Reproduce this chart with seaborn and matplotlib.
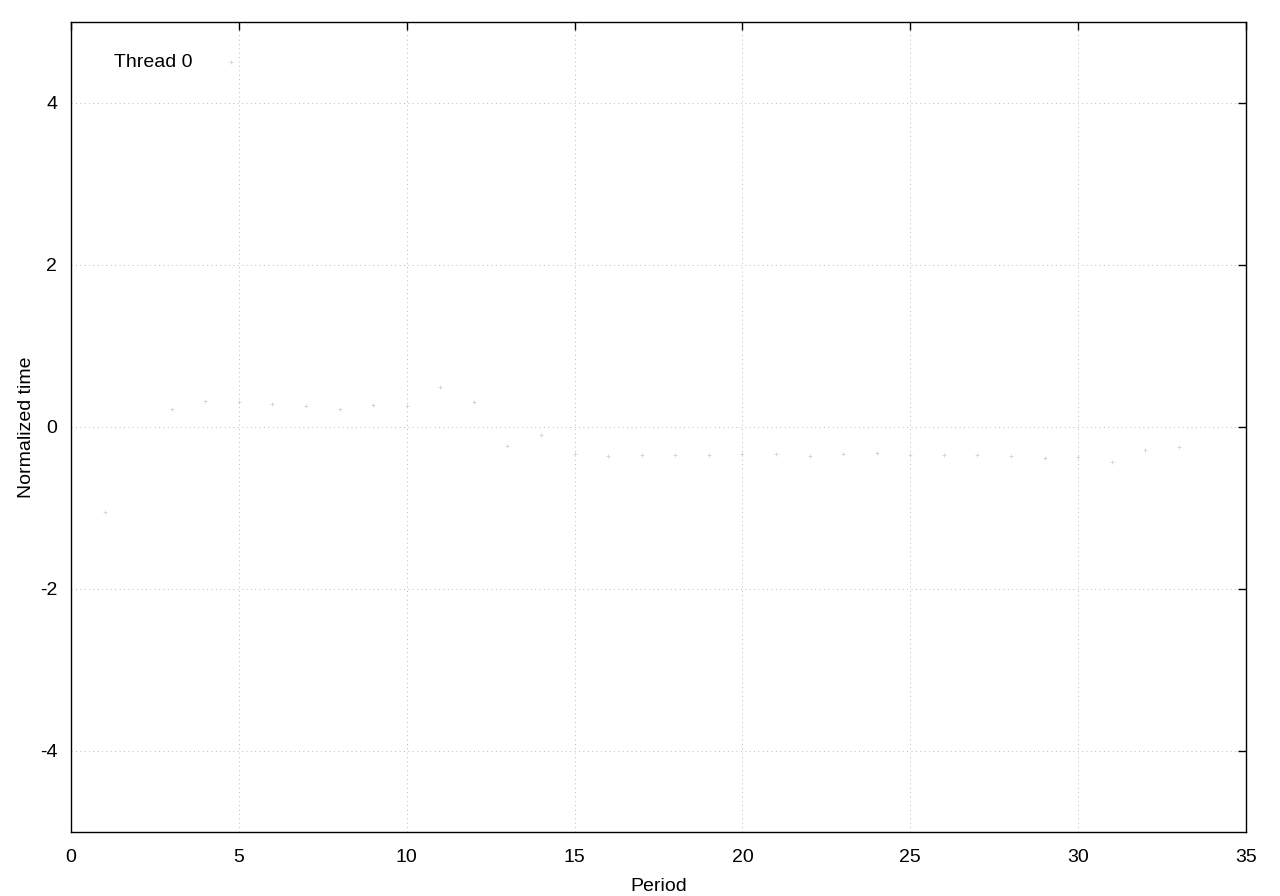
"""
Normalized time per period for thread 0, drawn in a gnuplot-like style.
"""

import matplotlib

matplotlib.use("Agg")

import matplotlib.pyplot as plt
import pandas as pd
import seaborn as sns

# values
period = [1, 3, 4, 5, 6, 7, 8, 9, 10, 11, 12, 13, 14, 15, 16, 17, 18,
          19, 20, 21, 22, 23, 24, 25, 26, 27, 28, 29, 30, 31, 32, 33]
norm_time = [-1.05, 0.22, 0.32, 0.31, 0.28, 0.26, 0.22, 0.27, 0.26, 0.49,
             0.30, -0.24, -0.10, -0.33, -0.36, -0.35, -0.35, -0.35, -0.33,
             -0.33, -0.36, -0.34, -0.32, -0.35, -0.35, -0.35, -0.36, -0.39,
             -0.37, -0.44, -0.29, -0.25]
series_label = "Thread 0"

x_ticks = [0, 5, 10, 15, 20, 25, 30, 35]
y_ticks = [-4, -2, 0, 2, 4]

OUT_PATH = "out.png"


def main() -> None:
    df = pd.DataFrame({"Period": period, "Normalized time": norm_time})

    sns.set_style("white")
    plt.rcParams["font.family"] = ["Liberation Sans", "DejaVu Sans"]
    plt.rcParams["axes.unicode_minus"] = False
    plt.rcParams["text.color"] = "black"
    plt.rcParams["axes.labelcolor"] = "black"

    fig = plt.figure(figsize=(12.8, 8.96), dpi=100)
    ax = fig.add_axes([0.0555, 0.0714, 0.9179, 0.9046])

    sns.scatterplot(
        data=df,
        x="Period",
        y="Normalized time",
        marker="+",
        s=12,
        color="#d2d2d2",
        linewidth=0.6,
        label=series_label,
        ax=ax,
        zorder=3,
    )

    ax.set_xlim(0, 35)
    ax.set_ylim(-5, 5)
    ax.set_xticks(x_ticks)
    ax.set_yticks(y_ticks)

    ax.grid(True, color="#b8b8b8", linestyle=(0, (1, 3.5)), linewidth=0.7)
    ax.set_axisbelow(True)
    for spine in ax.spines.values():
        spine.set_visible(True)
        spine.set_color("black")
        spine.set_linewidth(1.0)

    ax.tick_params(
        axis="both", which="major", direction="in", length=6, width=1,
        top=True, right=True, labelsize=14, colors="black",
    )
    ax.tick_params(axis="x", pad=12)
    ax.tick_params(axis="y", pad=10)

    ax.set_xlabel("Period", fontsize=14, labelpad=9, color="black")
    ax.set_ylabel("Normalized time", fontsize=14, labelpad=3, color="black")

    ax.legend(
        loc="upper left",
        frameon=False,
        markerfirst=False,
        fontsize=14,
        handlelength=1.2,
        handletextpad=1.4,
        borderaxespad=0.6,
        bbox_to_anchor=(0.02, 0.985),
        labelcolor="black",
    )

    fig.savefig(OUT_PATH, dpi=100)
    plt.close(fig)


if __name__ == "__main__":
    main()
